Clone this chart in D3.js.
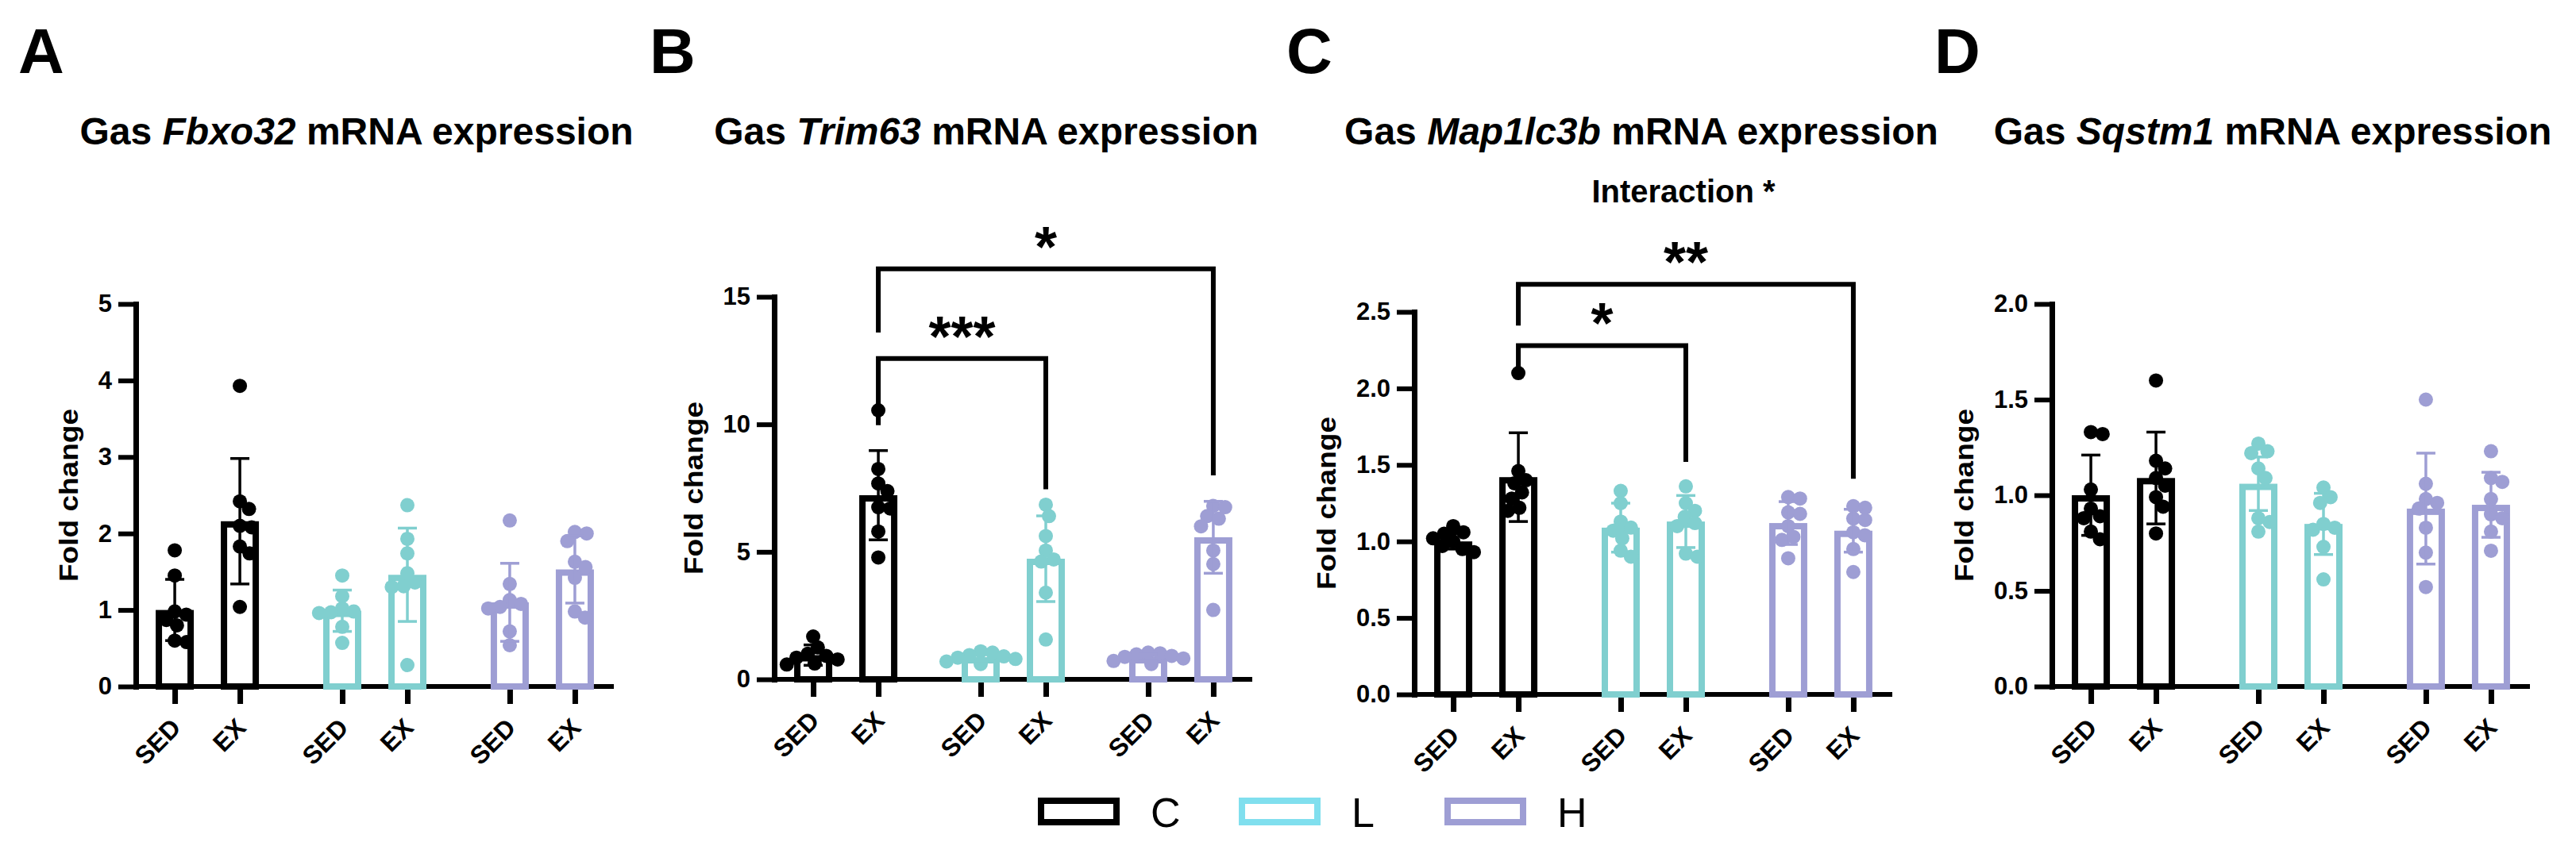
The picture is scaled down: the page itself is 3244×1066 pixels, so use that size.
<!DOCTYPE html>
<html><head><meta charset="utf-8">
<script src="https://cdn.jsdelivr.net/npm/d3@7"></script>
<style>
body{margin:0;background:#fff}
svg{display:block}
text{font-family:"Liberation Sans", Arial, Helvetica, sans-serif}
</style>
</head><body>
<svg id="chart" width="3244" height="1066"></svg>
<script>
// ---------------- DATA ----------------
const groups = ["C", "L", "H"];
const conditions = ["SED", "EX"];
const panelLetters = ["A", "B", "C", "D"];
const genes = ["Fbxo32", "Trim63", "Map1lc3b", "Sqstm1"];
const yMax = [5, 15, 2.5, 2.0];
const yTicks = [[0,1,2,3,4,5],[0,5,10,15],[0,0.5,1.0,1.5,2.0,2.5],[0,0.5,1.0,1.5,2.0]];
const yTickFormats = ["d", "d", ".1f", ".1f"];
const yLabel = "Fold change";

// bar order: C-SED, C-EX, L-SED, L-EX, H-SED, H-EX
const meansA = [1.00, 2.16, 0.99, 1.46, 1.10, 1.53];
const sdA    = [0.40, 0.82, 0.27, 0.61, 0.51, 0.44];
const pointsA = [
  [1.78, 1.45, 0.98, 0.94, 0.80, 0.60, 0.58, 0.87],
  [3.93, 2.42, 2.32, 2.10, 2.08, 1.83, 1.74, 1.04],
  [1.45, 1.18, 1.02, 0.98, 0.97, 0.96, 0.78, 0.57],
  [2.37, 1.93, 1.74, 1.48, 1.36, 1.31, 1.30, 0.28],
  [2.17, 1.34, 1.13, 1.08, 1.04, 1.02, 0.72, 0.54],
  [2.02, 2.00, 1.90, 1.63, 1.56, 1.42, 0.98, 0.90]
];
const meansB = [0.95, 7.22, 0.87, 4.73, 0.87, 5.57];
const sdB    = [0.40, 1.75, 0.15, 1.68, 0.12, 1.41];
const pointsB = [
  [1.68, 1.25, 1.00, 0.92, 0.85, 0.78, 0.62, 0.58],
  [10.55, 8.25, 7.68, 7.38, 6.75, 6.70, 5.80, 4.78],
  [1.10, 1.05, 0.95, 0.90, 0.85, 0.80, 0.70, 0.60],
  [6.85, 6.40, 5.62, 5.05, 4.70, 4.62, 3.40, 1.56],
  [1.05, 1.02, 0.98, 0.92, 0.88, 0.82, 0.72, 0.60],
  [6.80, 6.75, 6.40, 6.30, 6.00, 5.05, 4.52, 2.72]
];
const meansC = [1.00, 1.42, 1.09, 1.13, 1.12, 1.07];
const sdC    = [0.05, 0.29, 0.16, 0.17, 0.14, 0.14];
const pointsC = [
  [1.10, 1.06, 1.05, 1.02, 1.00, 0.97, 0.95, 0.93],
  [2.10, 1.46, 1.40, 1.38, 1.32, 1.28, 1.22, 1.20],
  [1.33, 1.25, 1.13, 1.09, 1.07, 1.02, 0.94, 0.90],
  [1.36, 1.25, 1.20, 1.16, 1.12, 1.10, 0.92, 0.90],
  [1.29, 1.28, 1.19, 1.18, 1.10, 1.03, 1.01, 0.89],
  [1.23, 1.22, 1.15, 1.14, 1.06, 1.04, 0.95, 0.80]
];
const meansD = [1.00, 1.09, 1.06, 0.85, 0.93, 0.95];
const sdD    = [0.21, 0.24, 0.14, 0.16, 0.29, 0.17];
const pointsD = [
  [1.33, 1.32, 1.03, 0.93, 0.89, 0.88, 0.81, 0.77],
  [1.60, 1.18, 1.14, 1.09, 1.05, 0.99, 0.94, 0.80],
  [1.27, 1.23, 1.22, 1.14, 1.09, 0.88, 0.86, 0.81],
  [1.04, 0.99, 0.96, 0.85, 0.83, 0.82, 0.73, 0.56],
  [1.50, 1.06, 0.98, 0.96, 0.93, 0.83, 0.70, 0.52],
  [1.23, 1.09, 1.07, 0.98, 0.90, 0.88, 0.81, 0.71]
];
// significance brackets (bar indices, y in data units)
const bracketsA = [];
const bracketsB = [
  {from: 1, to: 3, y: 12.58, yFrom: 9.97, yTo: 7.45, label: "***"},
  {from: 1, to: 5, y: 16.10, yFrom: 13.6, yTo: 8.0, label: "*"}
];
const bracketsC = [
  {from: 1, to: 3, y: 2.28, yFrom: 2.14, yTo: 1.52, label: "*"},
  {from: 1, to: 5, y: 2.68, yFrom: 2.41, yTo: 1.41, label: "**"}
];
const bracketsD = [];
const subtitles = ["", "", "Interaction *", ""];
const legendLabels = ["C", "L", "H"];

// ---------------- STYLE / LAYOUT ----------------
const barColors = {C: "#000000", L: "#80CFCF", H: "#9E9ED4"};
const legendColors = {C: "#000000", L: "#80DFEE", H: "#9E9ED4"};
const axisX = [171, 975, 1781, 2584];
const zeroY = [865, 856, 875, 865];
const plotH = 482, plotW = 602;
const titleCX = [449, 1242, 2067, 2862];
const letterX = [23, 818, 1620, 2436];

const meansAll = [meansA, meansB, meansC, meansD];
const sdAll = [sdA, sdB, sdC, sdD];
const pointsAll = [pointsA, pointsB, pointsC, pointsD];
const bracketsAll = [bracketsA, bracketsB, bracketsC, bracketsD];

const svg = d3.select("#chart");
const R = 9;
const DSEP = 15; // min centre distance between dots (dots may overlap a little)

function swarm(vals, y) {
  const pts = vals.map(v => ({v, py: y(v)})).sort((a, b) => a.py - b.py);
  const placed = [];
  const D = DSEP;
  pts.forEach(p => {
    const cand = [0];
    placed.forEach(q => {
      const dy = p.py - q.py;
      if (Math.abs(dy) < D) {
        const dx = Math.sqrt(D * D - dy * dy);
        cand.push(q.x + dx, q.x - dx);
      }
    });
    cand.sort((a, b) => Math.abs(a) - Math.abs(b));
    for (const c of cand) {
      const ok = placed.every(q => (c - q.x) ** 2 + (p.py - q.py) ** 2 >= D * D - 0.5);
      if (ok) { p.x = c; break; }
    }
    placed.push(p);
  });
  return pts;
}

panelLetters.forEach((letter, pi) => {
  const ax = axisX[pi], y0 = zeroY[pi];
  const g = svg.append("g");
  const y = d3.scaleLinear().domain([0, yMax[pi]]).range([y0, y0 - plotH]);
  const xg = d3.scalePoint().domain(groups).range([ax, ax + plotW]).padding(0.427);
  const xc = d3.scalePoint().domain(conditions).range([-41, 41]);
  const keys = [];
  groups.forEach(gr => conditions.forEach(c => keys.push(gr + "-" + c)));
  const xKey = d3.scaleOrdinal().domain(keys).range(keys.map(k => {
    const [gr, c] = k.split("-");
    return xg(gr) + xc(c);
  }));

  // panel letter
  g.append("text").attr("x", letterX[pi]).attr("y", 92)
    .attr("font-size", 80).attr("font-weight", "bold").text(letter);

  // title
  const t = g.append("text").attr("x", titleCX[pi]).attr("y", 182)
    .attr("text-anchor", "middle").attr("font-size", 48).attr("font-weight", "bold");
  t.append("tspan").text("Gas ");
  t.append("tspan").attr("font-style", "italic").text(genes[pi]);
  t.append("tspan").text(" mRNA expression");

  if (subtitles[pi]) {
    g.append("text").attr("x", 2120).attr("y", 255).attr("text-anchor", "middle")
      .attr("font-size", 40).attr("font-weight", "bold").text(subtitles[pi]);
  }

  // y axis
  const yAxis = d3.axisLeft(y).tickValues(yTicks[pi]).tickFormat(d3.format(yTickFormats[pi]))
    .tickSize(22).tickSizeOuter(0).tickPadding(8);
  const ya = g.append("g").attr("transform", `translate(${ax},0)`).call(yAxis);
  ya.select(".domain").attr("stroke-width", 7).attr("stroke-linecap", "square");
  ya.selectAll(".tick line").attr("stroke-width", 6);
  ya.selectAll(".tick text").attr("font-size", 31).attr("font-weight", "bold")
    .attr("font-family", '"Liberation Sans", Arial, sans-serif').attr("fill", "#000");

  // y label
  let minX = Infinity;
  ya.selectAll(".tick text").each(function () {
    const b = this.getBBox();
    minX = Math.min(minX, ax + b.x);
  });
  const lx = minX - 37, ly = y0 - plotH / 2;
  g.append("text").attr("transform", `translate(${lx},${ly}) rotate(-90)`)
    .attr("text-anchor", "middle").attr("dy", "0.35em")
    .attr("font-size", 33).attr("font-weight", "bold")
    .attr("textLength", 218).attr("lengthAdjust", "spacingAndGlyphs").text(yLabel);

  // x axis
  g.append("line").attr("x1", ax).attr("x2", ax + plotW).attr("y1", y0).attr("y2", y0)
    .attr("stroke", "#000").attr("stroke-width", 6);
  const xAxis = d3.axisBottom(xKey).tickSize(22).tickSizeOuter(0).tickFormat(d => d.split("-")[1]);
  const xa = g.append("g").attr("transform", `translate(0,${y0})`).call(xAxis);
  xa.select(".domain").remove();
  xa.selectAll(".tick line").attr("stroke-width", 7);
  xa.selectAll(".tick text").attr("font-size", 32).attr("font-weight", "bold")
    .attr("font-family", '"Liberation Sans", Arial, sans-serif').attr("fill", "#000")
    .attr("x", 0).attr("y", 0).attr("dy", 0).attr("text-anchor", "end")
    .attr("transform", "translate(9,54) rotate(-45)");

  const means = meansAll[pi], sds = sdAll[pi], pts = pointsAll[pi];
  const BW = 48, SW = 8;
  // bars
  keys.forEach((k, i) => {
    const col = barColors[k.split("-")[0]];
    const cx = xKey(k);
    const top = y(means[i]);
    g.append("rect").attr("x", cx - BW / 2 + SW / 2).attr("y", top + SW / 2)
      .attr("width", BW - SW).attr("height", Math.max(0, y0 - top - SW / 2))
      .attr("fill", "#fff").attr("stroke", col).attr("stroke-width", SW);
  });
  // dots
  keys.forEach((k, i) => {
    const col = barColors[k.split("-")[0]];
    const cx = xKey(k);
    g.append("g").selectAll("circle").data(swarm(pts[i], y)).join("circle")
      .attr("cx", d => cx + d.x).attr("cy", d => d.py).attr("r", R).attr("fill", col);
  });
  // error bars
  keys.forEach((k, i) => {
    const col = barColors[k.split("-")[0]];
    const cx = xKey(k);
    const hi = y(means[i] + sds[i]), lo = y(Math.max(0, means[i] - sds[i]));
    const eg = g.append("g").attr("stroke", col).attr("stroke-width", 3.5);
    eg.append("line").attr("x1", cx).attr("x2", cx).attr("y1", hi).attr("y2", lo);
    eg.append("line").attr("x1", cx - 12).attr("x2", cx + 12).attr("y1", hi).attr("y2", hi);
    eg.append("line").attr("x1", cx - 12).attr("x2", cx + 12).attr("y1", lo).attr("y2", lo);
  });
  // brackets
  bracketsAll[pi].forEach(b => {
    const x1 = xKey(keys[b.from]), x2 = xKey(keys[b.to]);
    const yb = y(b.y);
    g.append("path")
      .attr("d", `M${x1},${y(b.yFrom)}V${yb}H${x2}V${y(b.yTo)}`)
      .attr("fill", "none").attr("stroke", "#000").attr("stroke-width", 6);
    g.append("text").attr("x", (x1 + x2) / 2).attr("y", yb - 3)
      .attr("text-anchor", "middle").attr("font-size", 72).attr("font-weight", "bold")
      .text(b.label);
  });
});

// legend
const legX = [1307, 1560, 1819];
legendLabels.forEach((lab, i) => {
  svg.append("rect").attr("x", legX[i] + 4).attr("y", 1009).attr("width", 95).attr("height", 27)
    .attr("fill", "#fff").attr("stroke", legendColors[lab]).attr("stroke-width", 8);
  svg.append("text").attr("x", legX[i] + 142).attr("y", 1042).attr("font-size", 52)
    .text(lab);
});
</script>
</body></html>
